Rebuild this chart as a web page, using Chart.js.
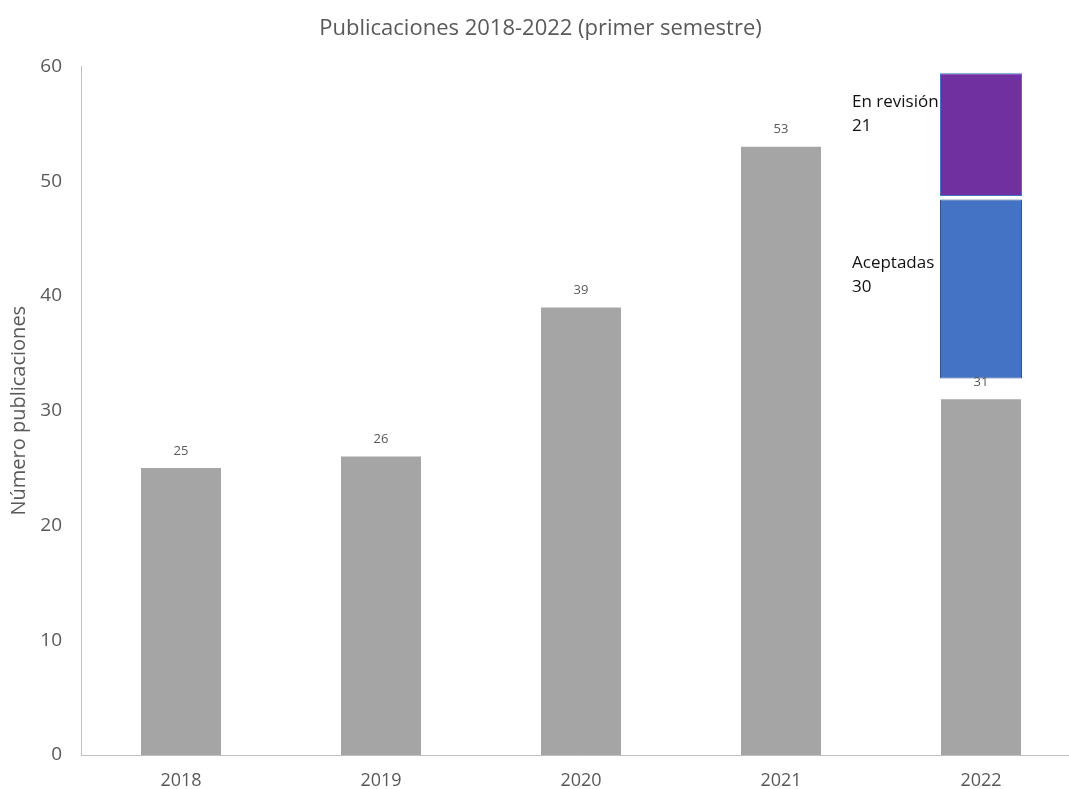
<!DOCTYPE html>
<html>
<head>
<meta charset="utf-8">
<script src="https://cdn.jsdelivr.net/npm/chart.js@4/dist/chart.umd.min.js"></script>
<style>
  html, body { margin: 0; padding: 0; background: #fff; overflow: hidden; }
  #wrap { width: 1069px; height: 789px; overflow: hidden; }
</style>
</head>
<body>
<div id="wrap"><canvas id="c" width="1081" height="789"></canvas></div>
<script>
const categories = ['2018', '2019', '2020', '2021', '2022'];
const publicaciones = [25, 26, 39, 53, 31];
// 2022 boxes (floating ranges as drawn in the picture)
const aceptadasRange = [null, null, null, null, [32.8, 48.4]];
const revisionRange = [null, null, null, null, [48.7, 59.4]];
const boxNames = ['Aceptadas', 'En revisión'];
const boxCounts = [30, 21];
const yTicks = [0, 10, 20, 30, 40, 50, 60];

const FONT = '"Open Sans", Lato, sans-serif';
const GREY_TXT = '#595959';

const labelsPlugin = {
  id: 'labelsPlugin',
  afterDatasetsDraw(chart) {
    const ctx = chart.ctx;
    ctx.save();
    // value labels above grey bars
    const meta0 = chart.getDatasetMeta(0);
    ctx.font = '13px ' + FONT;
    ctx.fillStyle = GREY_TXT;
    ctx.textAlign = 'center';
    ctx.textBaseline = 'middle';
    meta0.data.forEach((bar, i) => {
      ctx.fillText(String(publicaciones[i]), bar.x, bar.y - 17);
    });
    // box labels
    ctx.font = '17px ' + FONT;
    ctx.fillStyle = '#111';
    ctx.textAlign = 'left';
    [1, 2].forEach((di, k) => {
      const ds = chart.data.datasets[di];
      const meta = chart.getDatasetMeta(di);
      meta.data.forEach((bar, idx) => {
        if (!ds.data[idx]) return;
        const left = bar.x - bar.width / 2;
        const topY = Math.min(bar.y, bar.base);
        const off = k === 0 ? 64 : 29;
        ctx.fillText(boxNames[k], left - 88, topY + off);
        ctx.fillText(String(boxCounts[k]), left - 88, topY + off + 24);
      });
    });
    ctx.restore();
  }
};

new Chart(document.getElementById('c'), {
  type: 'bar',
  data: {
    labels: categories,
    datasets: [
      {
        label: 'Publicaciones',
        data: publicaciones,
        backgroundColor: '#A5A5A5',
        borderWidth: 0,
        grouped: false,
        categoryPercentage: 1,
        barPercentage: 0.4
      },
      {
        label: 'Aceptadas',
        data: aceptadasRange,
        backgroundColor: '#4472C4',
        borderColor: '#2F5597',
        borderWidth: 1,
        borderSkipped: false,
        grouped: false,
        categoryPercentage: 1,
        barPercentage: 0.41
      },
      {
        label: 'En revisión',
        data: revisionRange,
        backgroundColor: '#7030A0',
        borderColor: '#4472C4',
        borderWidth: 1,
        borderSkipped: false,
        grouped: false,
        categoryPercentage: 1,
        barPercentage: 0.41
      }
    ]
  },
  options: {
    responsive: false,
    animation: false,
    layout: { padding: { left: 0, right: 0, top: 0, bottom: 0 } },
    plugins: {
      legend: { display: false },
      tooltip: { enabled: false },
      title: {
        display: true,
        text: 'Publicaciones 2018-2022 (primer semestre)',
        color: GREY_TXT,
        font: { family: FONT, size: 22, weight: 'normal' },
        padding: { top: 16, bottom: 24 }
      }
    },
    scales: {
      x: {
        grid: { display: false, drawTicks: false },
        border: { display: true, color: '#BFBFBF', width: 1 },
        ticks: {
          color: GREY_TXT,
          font: { family: FONT, size: 18 },
          padding: 15
        },
        afterFit(scale) { scale.height = 34; }
      },
      y: {
        min: 0,
        max: 60,
        afterBuildTicks(scale) { scale.ticks = yTicks.map(v => ({ value: v })); },
        grid: { display: false, drawTicks: false },
        border: { display: true, color: '#BFBFBF', width: 1 },
        ticks: {
          color: GREY_TXT,
          font: { family: FONT, size: 19 },
          padding: 19
        },
        title: {
          display: true,
          text: 'Número publicaciones',
          color: GREY_TXT,
          font: { family: FONT, size: 20 },
          padding: { top: 7, bottom: 0 }
        },
        afterFit(scale) { scale.width = 81; }
      }
    }
  },
  plugins: [labelsPlugin]
});
</script>
</body>
</html>
